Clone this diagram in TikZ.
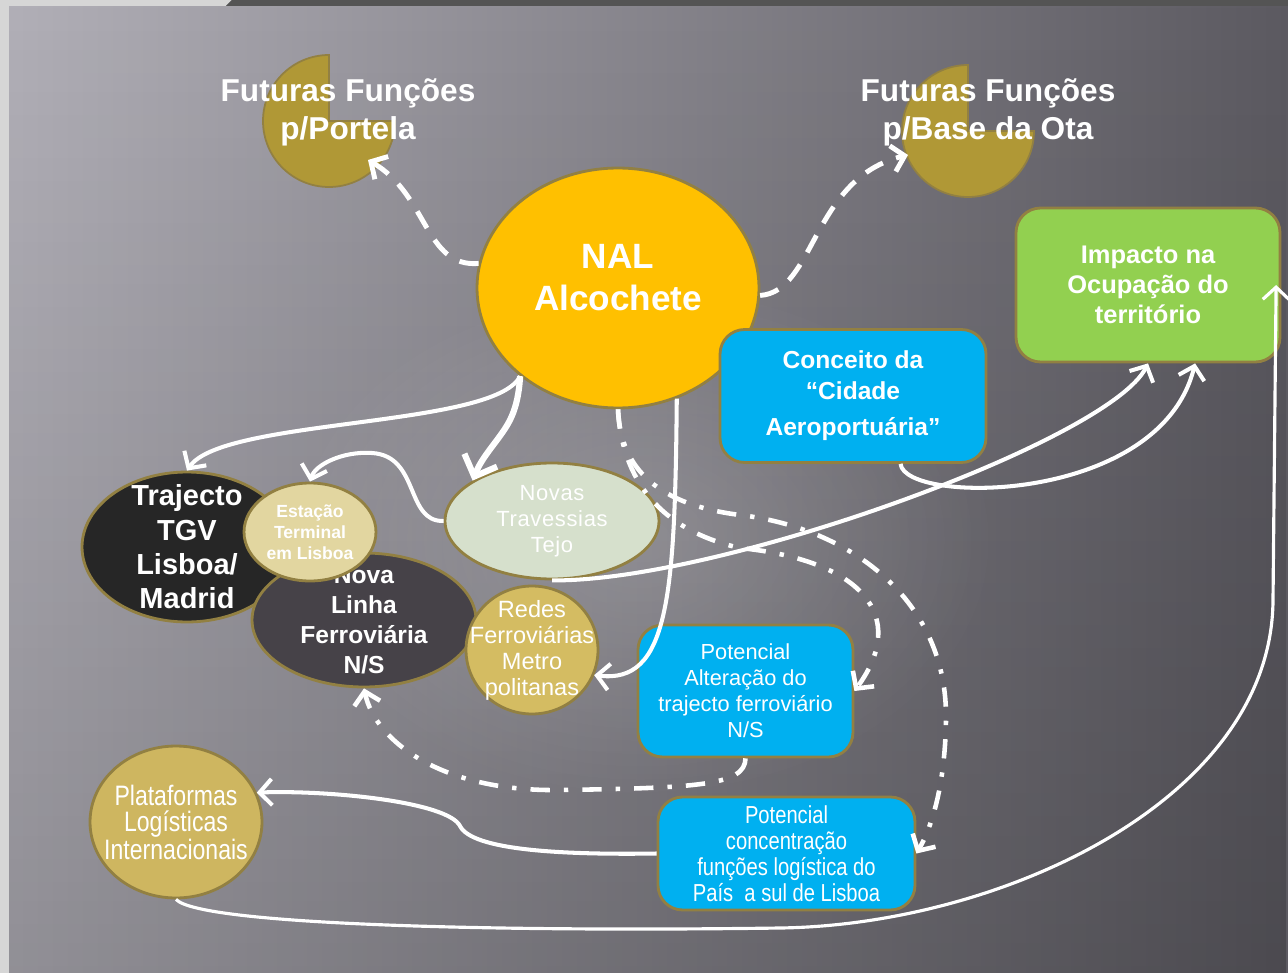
\documentclass[tikz,border=0pt]{standalone}
\usepackage{fontspec}
\setmainfont{Liberation Sans}
\newfontfamily\narrowfont[FakeStretch=0.82]{Liberation Sans}
\usetikzlibrary{arrows.meta, shapes.geometric, fadings, positioning}

\definecolor{bgleft}{RGB}{178,176,184}
\definecolor{bgright}{RGB}{92,90,97}
\definecolor{framegrey}{RGB}{214,214,214}
\definecolor{topbar}{RGB}{84,84,84}
\definecolor{rim}{RGB}{146,128,66}
\definecolor{piegold}{RGB}{176,152,54}
\definecolor{nalgold}{RGB}{255,192,0}
\definecolor{tgvdark}{RGB}{38,38,38}
\definecolor{linedark}{RGB}{70,66,72}
\definecolor{stationsand}{RGB}{226,214,160}
\definecolor{bridgesage}{RGB}{214,224,204}
\definecolor{metrosand}{RGB}{212,188,98}
\definecolor{logisand}{RGB}{206,182,96}
\definecolor{skyblue}{RGB}{0,176,240}
\definecolor{leafgreen}{RGB}{146,208,80}
\tikzfading[name=softglow, inner color=transparent!0, outer color=transparent!100]

\begin{document}
\begin{tikzpicture}[x=0.02cm, y=-0.02cm,
    bubble/.style={ellipse, draw=rim, line width=1.6pt, align=center, text=white, inner sep=-10pt},
    infobox/.style={rectangle, rounded corners=14pt, draw=rim, line width=1.6pt, align=center, text=white, inner sep=0pt},
    heading/.style={align=center, text=white, font=\fontsize{18}{21.6}\selectfont\bfseries},
    link/.style={white, line width=2.3pt, -{Straight Barb[length=7pt,width=15pt]}},
    dashlink/.style={link, line width=2.8pt, dash pattern=on 11pt off 8pt},
    dotlink/.style={link, line width=2.6pt, dash pattern=on 11pt off 8pt on 2.5pt off 8pt}]

\useasboundingbox (0,0) rectangle (1288,973);
\shade[left color=bgleft, right color=bgright] (0,0) rectangle (1288,973);
\fill[black, opacity=0.18, path fading=north] (0,0) rectangle (1288,973);
\fill[white, opacity=0.16, path fading=softglow] (640,540) ellipse[x radius=360, y radius=260];
\fill[framegrey] (0,0) rectangle (9,973);
\fill[framegrey] (0,0) -- (232,0) -- (226,6) -- (0,6) -- cycle;
\fill[topbar] (226,6) -- (232,0) -- (1288,0) -- (1288,6) -- cycle;

\filldraw[fill=piegold, draw=rim, line width=1pt] (329,121) -- ++(66,0) arc[start angle=0, end angle=270, radius=66] -- cycle;
\filldraw[fill=piegold, draw=rim, line width=1pt] (968,131) -- ++(66,0) arc[start angle=0, end angle=270, radius=66] -- cycle;
\node[heading] (portelatitle) at (348,112) {Futuras Funções\\p/Portela};
\node[heading] (otatitle) at (988,112) {Futuras Funções\\p/Base da Ota};
\coordinate (portelatip) at (368,160);
\coordinate (otatip) at (908,155);

\node[bubble, fill=nalgold, minimum width=5.64cm, minimum height=4.8cm, font=\fontsize{20}{24}\selectfont\bfseries] (nal) at (618,288) {NAL\\Alcochete\\[-12pt]\mbox{}};
\node[infobox, fill=leafgreen, minimum width=5.28cm, minimum height=3.08cm, font=\fontsize{14.5}{17}\selectfont\bfseries] (impacto) at (1148,285) {Impacto na\\Ocupação do\\território};
\node[infobox, fill=skyblue, minimum width=5.32cm, minimum height=2.66cm, font=\fontsize{14}{17.6}\selectfont\bfseries] (conceito) at (853,396) {Conceito da\\“Cidade\\[3pt]Aeroportuária”};
\node[bubble, fill=tgvdark, minimum width=4.2cm, minimum height=3cm, font=\fontsize{16.5}{19.5}\selectfont\bfseries] (trajecto) at (187,547) {Trajecto\\TGV\\Lisboa/\\Madrid};
\node[bubble, fill=linedark, minimum width=4.48cm, minimum height=2.68cm, font=\fontsize{14}{17}\selectfont\bfseries] (nova) at (364,620) {Nova\\Linha\\Ferroviária\\N/S};
\node[bubble, fill=stationsand, minimum width=2.64cm, minimum height=1.96cm, font=\fontsize{10}{12}\selectfont\bfseries] (estacao) at (310,532) {Estação\\Terminal\\em Lisboa};
\node[bubble, fill=bridgesage, minimum width=4.28cm, minimum height=2.32cm, font=\fontsize{12.5}{14.8}\selectfont\addfontfeature{LetterSpace=3}] (novas) at (552,521) {Novas\\Travessias\\Tejo};
\node[bubble, fill=metrosand, minimum width=2.64cm, minimum height=2.56cm, font=\fontsize{13.4}{14.8}\selectfont] (redes) at (532,650) {Redes\\Ferroviárias\\Metro\\politanas};
\node[bubble, fill=logisand, minimum width=3.44cm, minimum height=3.04cm, font=\narrowfont\fontsize{16}{14.8}\selectfont] (plataformas) at (176,822) {Plataformas\\Logísticas\\Internacionais};
\node[infobox, fill=skyblue, minimum width=4.3cm, minimum height=2.64cm, font=\fontsize{12.4}{14.8}\selectfont] (alteracao) at (745.5,691) {Potencial\\Alteração do\\trajecto ferroviário\\N/S};
\node[infobox, fill=skyblue, minimum width=5.14cm, minimum height=2.26cm, font=\narrowfont\fontsize{14}{14.8}\selectfont] (concentracao) at (786.5,853.5) {Potencial\\concentração\\funções logística do\\País~ a sul de Lisboa};

\draw[dashlink] (nal.170) .. controls (425,268) and (428,195) .. (portelatip);
\draw[dashlink] (nal.357) .. controls (815,292) and (812,178) .. (otatip);
\draw[link] (nal.222) .. controls (495,428) and (222,418) .. (trajecto.north);
\draw[link, line width=3.5pt, -{Straight Barb[length=10pt,width=20pt]}] (nal.222) .. controls (518,412) and (508,425) .. (497,440) .. controls (488,452) and (480,462) .. (novas.153);
\draw[link] (novas.west) .. controls (405,522) and (420,456) .. (372,453) .. controls (342,451) and (315,465) .. (estacao.north);
\draw[link] (nal.298) .. controls (675,600) and (668,684) .. (redes.338);
\draw[link] (novas.south) .. controls (720,582) and (1110,440) .. (impacto.south);
\draw[link] (conceito.-55) .. controls (905,505) and (1160,505) .. (impacto.-59);
\draw[link, line width=1.8pt] (plataformas.south) .. controls (200,925) and (500,932) .. (780,928) .. controls (1000,925) and (1272,800) .. (1273,600) -- ([xshift=-3pt]impacto.east);
\draw[link] (concentracao.west) .. controls (560,855) and (472,850) .. (460,826) .. controls (448,802) and (330,790) .. (plataformas.20);
\draw[dotlink] (nal.south) .. controls (622,480) and (660,530) .. (740,548) .. controls (860,560) and (910,615) .. (alteracao.east);
\draw[dotlink] (nal.south) .. controls (620,470) and (660,505) .. (740,515) .. controls (850,528) and (948,600) .. (946,720) .. controls (945,790) and (930,830) .. (concentracao.east);
\draw[dotlink] (alteracao.south) .. controls (745,785) and (700,788) .. (560,790) .. controls (440,792) and (375,740) .. (nova.south);
\end{tikzpicture}
\end{document}
